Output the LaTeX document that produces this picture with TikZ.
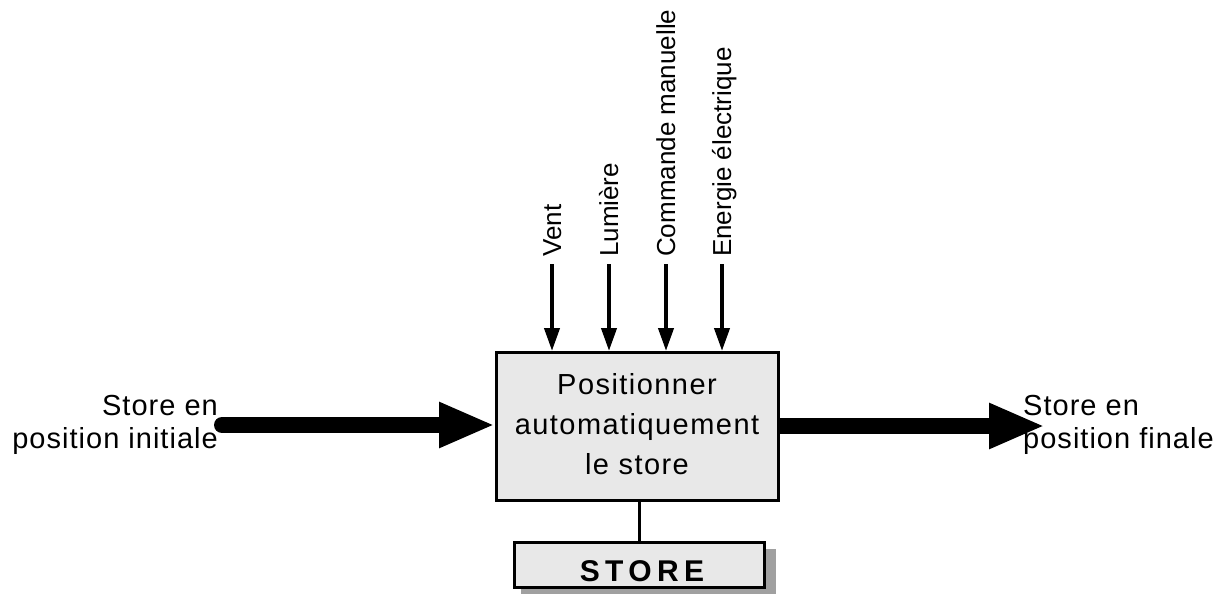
\documentclass[tikz,border=0pt]{standalone}
\usepackage{fontspec}
\setmainfont{Liberation Sans}
\usetikzlibrary{arrows.meta}
\definecolor{boxgray}{RGB}{232,232,232}
\definecolor{shadowgray}{RGB}{160,160,160}
\begin{document}
\begin{tikzpicture}[x=1pt,y=-1pt,
  mainbox/.style={draw,line width=3pt,fill=boxgray,minimum width=282pt,minimum height=148pt,inner sep=0pt},
  storebox/.style={draw,line width=3pt,fill=boxgray,minimum width=250pt,minimum height=45pt,inner sep=0pt},
  bigarrow/.style={line width=16pt,-{Triangle[length=56pt,width=42pt]}},
  smallarrow/.style={line width=4pt,-{Triangle[length=23pt,width=15pt]}},
  sidelabel/.style={font=\fontsize{29pt}{33pt}\selectfont\addfontfeatures{LetterSpace=3.5},inner sep=0pt},
  toplabel/.style={font=\fontsize{26pt}{30pt}\selectfont,inner sep=0pt,rotate=90,anchor=base west}]
\useasboundingbox (0,0) rectangle (1226,594);
% shadow of store box
\fill[shadowgray] (521,549) rectangle (776,594);
\node[storebox] (store) at (639.5,565) {};
\node[font=\bfseries\fontsize{30pt}{34pt}\selectfont\addfontfeatures{LetterSpace=18},inner sep=0pt,anchor=base] (storetxt) at (642,581) {STORE};
\node[mainbox] (fn) at (637.5,426.5) {};
\node[font=\fontsize{29pt}{40pt}\selectfont\addfontfeatures{LetterSpace=5},align=center,inner sep=0pt] (fntxt) at (637,424) {Positionner\\automatiquement\\le store};
\draw[line width=3pt] (store.north |- fn.south) -- (store.north);
% inputs
\coordinate (lin) at (222,425);
\coordinate (rout) at (1045,426);
\draw[bigarrow,line cap=round] (lin) -- (fn.west |- lin);
\draw[bigarrow] (fn.east |- rout) -- (rout);
\node[sidelabel,align=right,anchor=east] (ltxt) at (218,425) {Store en\\position initiale};
\node[sidelabel,align=left,anchor=west] (rtxt) at (1023,425) {Store en\\position finale};
% top controls
\coordinate (c1) at (552,264);
\coordinate (c2) at (609,264);
\coordinate (c3) at (666,264);
\coordinate (c4) at (722,264);
\foreach \c in {c1,c2,c3,c4} \draw[smallarrow] (\c) -- (\c |- fn.north);
\node[toplabel] (t1) at (561,257) {Vent};
\node[toplabel] (t2) at (618,257) {Lumière};
\node[toplabel] (t3) at (675,257) {Commande manuelle};
\node[toplabel] (t4) at (731,257) {Energie électrique};
\end{tikzpicture}
\end{document}
